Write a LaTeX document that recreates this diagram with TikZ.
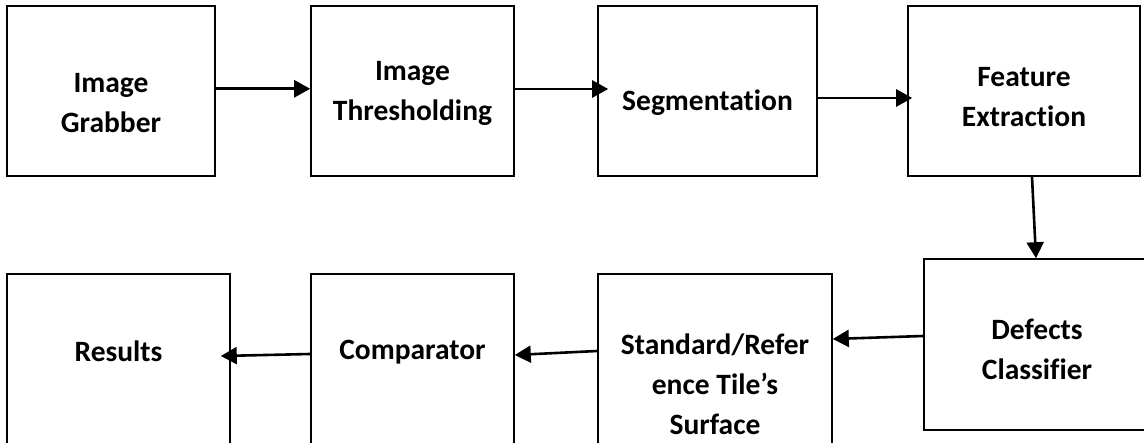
\documentclass[tikz,border=0pt]{standalone}
\usepackage{fontspec}
\setmainfont[Ligatures=NoCommon]{Carlito}
\usetikzlibrary{arrows.meta}
\tikzset{
  blk/.style={draw=black, line width=1.6pt, minimum width=#1, inner sep=0pt},
  lbl/.style={font=\bfseries\fontsize{29.5}{40}\selectfont, align=center, inner sep=0pt},
  flow/.style={line width=2.6pt, -{Triangle[length=16pt,width=17pt]}}
}
\begin{document}
\begin{tikzpicture}[x=1pt,y=-1pt]
\fill[white] (0,0) rectangle (1144,443);
\useasboundingbox (0,0) rectangle (1144,443);
% top row
\node[blk=208pt, minimum height=170pt] (b1) at (111,91) {};
\node[blk=203pt, minimum height=170pt] (b2) at (412.5,91) {};
\node[blk=219pt, minimum height=170pt] (b3) at (707.5,91) {};
\node[blk=232pt, minimum height=170pt] (b4) at (1024,91) {};
% bottom row
\node[blk=226pt, minimum height=171pt] (b5) at (1037,344.5) {};
\node[blk=234pt, minimum height=196pt] (b6) at (715,372) {};
\node[blk=203pt, minimum height=196pt] (b7) at (412.5,372) {};
\node[blk=223pt, minimum height=196pt] (b8) at (118.5,372) {};
% labels
\node[lbl] (t1) at (111,103) {Image\\Grabber};
\node[lbl] (t2) at (412.5,93) {Image\\Thresholding};
\node[lbl] (t3) at (707.5,103) {Segmentation};
\node[lbl] (t4) at (1024,97) {Feature\\Extraction};
\node[lbl] (t5) at (1037,349) {Defects\\Classifier};
\node[lbl] (t6) at (715,384.5) {Standard/Refer\\ence Tile’s\\Surface};
\node[lbl] (t7) at (412.5,352) {Comparator};
\node[lbl] (t8) at (118.5,351.5) {Results};
% connectors
\draw[flow] ([yshift=2.2pt]b1.east) -- ([yshift=2.2pt]b2.west);
\draw[flow] ([yshift=2pt]b2.east) -- ([xshift=11pt,yshift=2pt]b3.west);
\draw[flow] ([yshift=-7pt]b3.east) -- ([xshift=5pt,yshift=-7pt]b4.west);
\draw[flow] ([xshift=8pt]b4.south) -- ([xshift=-1pt]b5.north);
\draw[flow] ([yshift=8.5pt]b5.west) -- ([yshift=33pt]b6.east);
\draw[flow] ([yshift=21pt]b6.west) -- ([yshift=17pt]b7.east);
\draw[flow] ([yshift=18pt]b7.west) -- ([xshift=-10pt,yshift=16pt]b8.east);
\end{tikzpicture}
\end{document}
